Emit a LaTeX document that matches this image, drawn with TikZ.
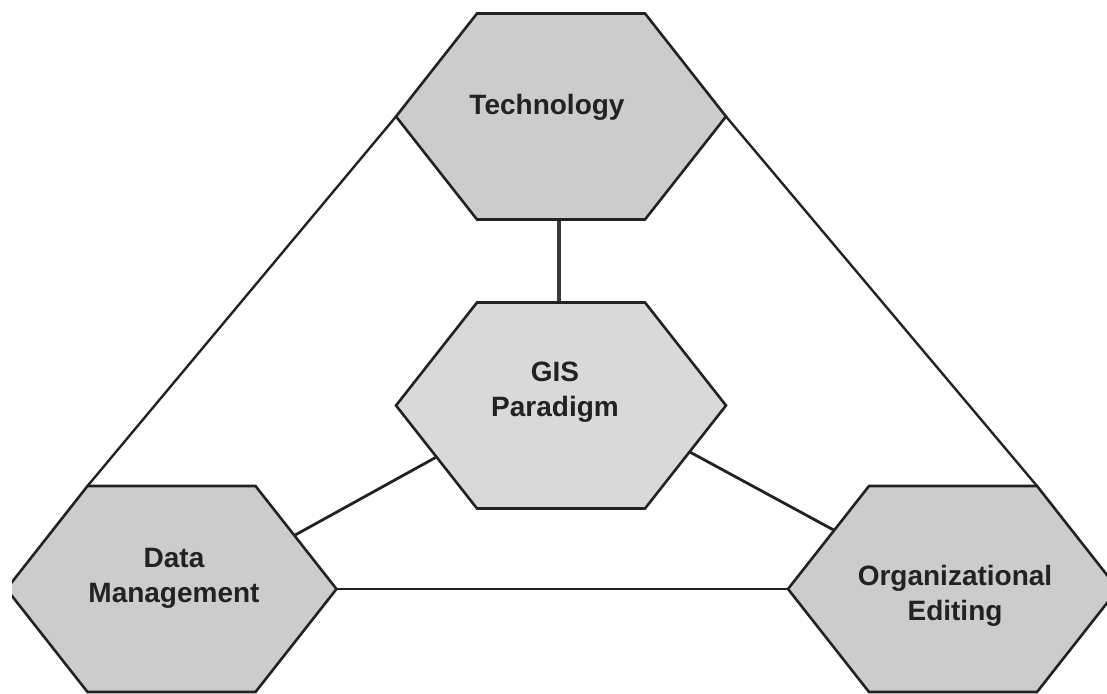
\documentclass[tikz,border=0pt]{standalone}
\usepackage{fontspec}
\setmainfont{Liberation Sans}
\usetikzlibrary{calc}
\definecolor{hexfill}{HTML}{CCCCCC}
\definecolor{hexfillc}{HTML}{D9D9D9}
\definecolor{ink}{HTML}{222222}
\tikzset{
  hexline/.style={draw=ink, line width=2.6pt, line join=miter},
  hextext/.style={font=\fontsize{28}{35}\selectfont\bfseries, text=ink, align=center, inner sep=0pt},
  thicklink/.style={draw=ink!90, line width=4.5pt},
  midlink/.style={draw=ink, line width=2.8pt},
  thinlink/.style={draw=ink, line width=2.4pt},
}
\newcommand\defhex[3]{% name, cx, cy
  \coordinate (#1-tl) at (#2-84,#3-103);
  \coordinate (#1-tr) at (#2+84,#3-103);
  \coordinate (#1-r)  at (#2+165,#3);
  \coordinate (#1-br) at (#2+84,#3+103);
  \coordinate (#1-bl) at (#2-84,#3+103);
  \coordinate (#1-l)  at (#2-165,#3);
}
\newcommand\drawhex[2]{% name, fill
  \path[hexline, fill=#2] (#1-tl) -- (#1-tr) -- (#1-r) -- (#1-br) -- (#1-bl) -- (#1-l) -- cycle;
}
\begin{document}
\begin{tikzpicture}[x=1pt,y=-1pt]
  \useasboundingbox (0,0) rectangle (1107,693);
  \clip (0,0) rectangle (1107,693);
  % hexagon geometry
  \defhex{tech}{561}{116.5}
  \defhex{gis}{561}{405.5}
  \defhex{dm}{171.5}{589}
  \defhex{oe}{953}{589}
  % connectors
  \draw[thinlink] (tech-l) -- (dm-tl);
  \draw[thinlink] (tech-r) -- (oe-tr);
  \draw[thicklink] ($(tech-bl)!0.5!(tech-br)+(-2,0)$) -- ($(gis-tl)!0.5!(gis-tr)+(-2,0)$);
  \draw[midlink] ($(gis-l)!0.5!(gis-bl)$) -- ($(dm-tr)!0.48!(dm-r)$);
  \draw[midlink] ($(gis-r)!0.45!(gis-br)$) -- ($(oe-tl)!0.43!(oe-l)$);
  \draw[thinlink] (dm-r) -- (oe-l);
  % hexagons
  \drawhex{tech}{hexfill}
  \drawhex{gis}{hexfillc}
  \begin{scope}
    \clip (12,0) rectangle (1107,693);
    \drawhex{dm}{hexfill}
  \end{scope}
  \drawhex{oe}{hexfill}
  % texts
  \node[hextext] (tech-text) at (547,107) {Technology};
  \node[hextext] (gis-text) at (555,392) {GIS\\Paradigm};
  \node[hextext] (dm-text) at (174,578) {Data\\Management};
  \node[hextext] (oe-text) at (955,596) {Organizational\\Editing};
\end{tikzpicture}
\end{document}
